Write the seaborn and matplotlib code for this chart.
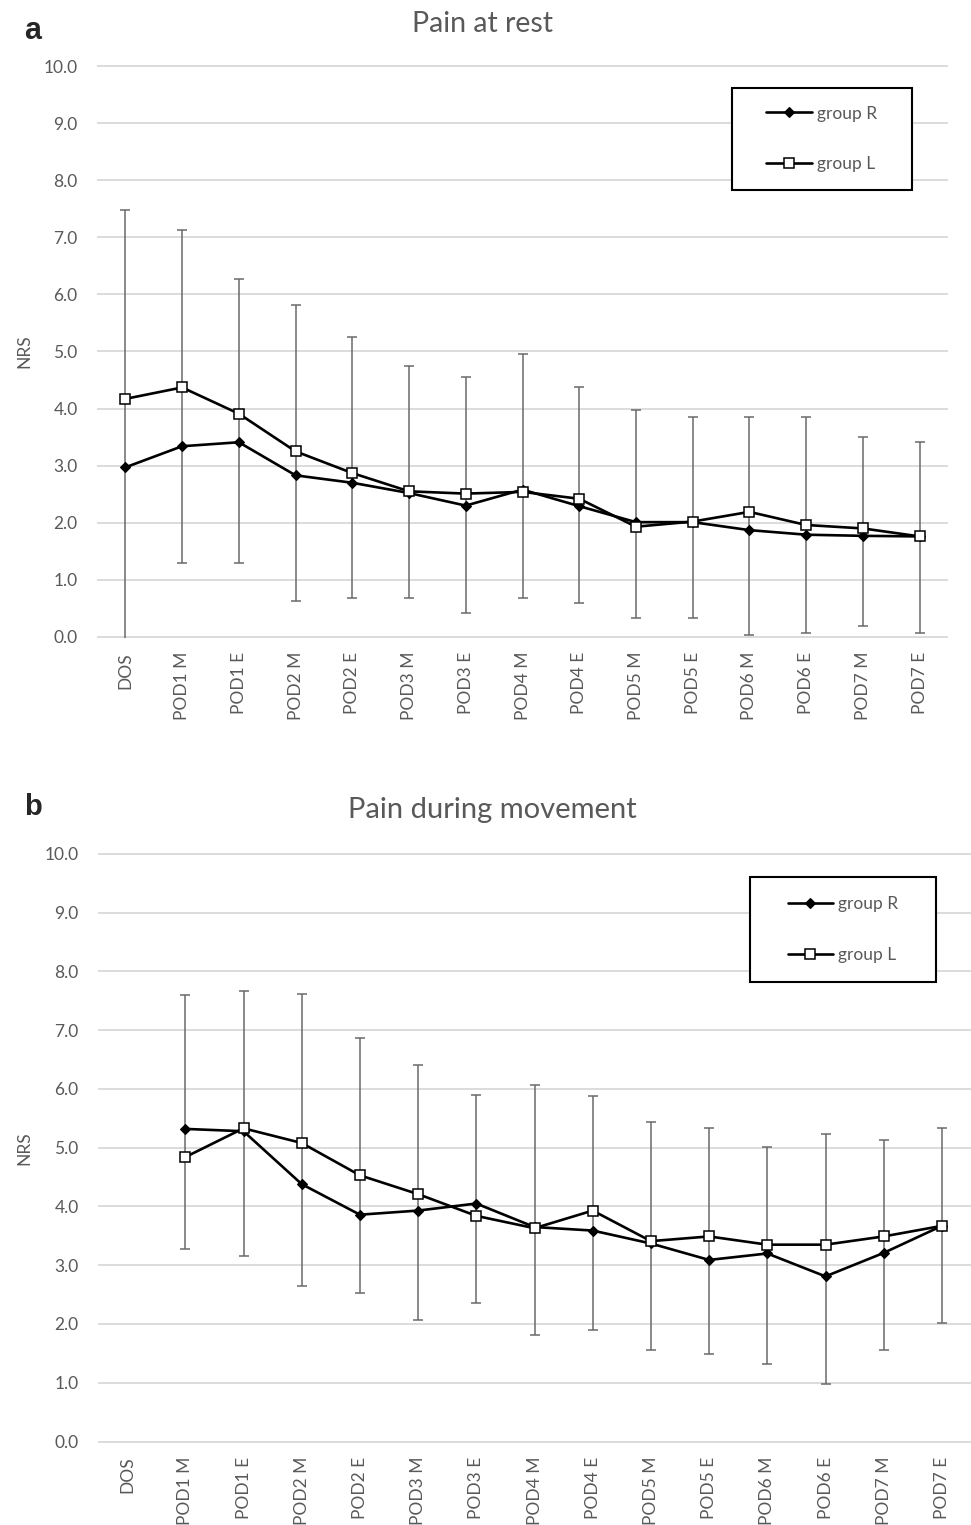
import numpy as np
import pandas as pd
import matplotlib
matplotlib.use('Agg')
import matplotlib.pyplot as plt
import seaborn as sns
from matplotlib.patches import Rectangle

# Zeitpunkte
times = ['DOS', 'POD1 M', 'POD1 E', 'POD2 M', 'POD2 E', 'POD3 M', 'POD3 E',
         'POD4 M', 'POD4 E', 'POD5 M', 'POD5 E', 'POD6 M', 'POD6 E', 'POD7 M', 'POD7 E']

# a: pain at rest (mean NRS, error bar ends)
rest_r = [2.97, 3.34, 3.41, 2.83, 2.70, 2.52, 2.30, 2.58, 2.29, 2.01, 2.01, 1.87, 1.79, 1.77, 1.76]
rest_l = [4.17, 4.37, 3.91, 3.25, 2.87, 2.55, 2.51, 2.54, 2.42, 1.93, 2.02, 2.19, 1.96, 1.90, 1.76]
rest_low = [-0.3, 1.30, 1.30, 0.62, 0.68, 0.68, 0.41, 0.68, 0.59, 0.33, 0.33, 0.04, 0.07, 0.19, 0.07]
rest_high = [7.48, 7.13, 6.27, 5.81, 5.26, 4.75, 4.55, 4.95, 4.37, 3.97, 3.85, 3.85, 3.85, 3.50, 3.42]

# b: pain during movement (no value at DOS)
nan = float('nan')
move_r = [nan, 5.32, 5.28, 4.38, 3.86, 3.93, 4.05, 3.65, 3.59, 3.37, 3.09, 3.20, 2.81, 3.21, 3.67]
move_l = [nan, 4.84, 5.33, 5.08, 4.53, 4.21, 3.84, 3.63, 3.93, 3.41, 3.49, 3.35, 3.35, 3.49, 3.67]
move_low = [nan, 3.27, 3.15, 2.64, 2.52, 2.06, 2.35, 1.81, 1.89, 1.55, 1.49, 1.32, 0.98, 1.55, 2.01]
move_high = [nan, 7.59, 7.67, 7.62, 6.87, 6.41, 5.90, 6.07, 5.88, 5.44, 5.33, 5.02, 5.24, 5.13, 5.33]

sns.set_style('white')
plt.rcParams['font.family'] = ['Lato', 'DejaVu Sans']
GRAY = '#595959'


def draw_panel(ax, r, l, low, high, frame, leg_center, label_x):
    pos = np.arange(len(times))
    r = np.array(r); l = np.array(l)
    low = np.array(low); high = np.array(high)
    df = pd.DataFrame({'pos': pos, 'R': r, 'L': l})

    ax.errorbar(pos, r, yerr=[r - low, high - r], fmt='none', ecolor='#6a6a6a',
                elinewidth=1.1, capsize=3.3, capthick=1.1, zorder=2)
    sns.lineplot(data=df, x='pos', y='R', ax=ax, color='black', lw=1.9,
                 marker='D', ms=5, markeredgecolor='black', mew=0.8,
                 errorbar=None, label='group R', zorder=3)
    sns.lineplot(data=df, x='pos', y='L', ax=ax, color='black', lw=1.9,
                 marker='s', ms=7.5, mfc='white', markeredgecolor='black', mew=1.1,
                 errorbar=None, label='group L', zorder=4)

    ax.set_xlim(-0.5, len(times) - 0.5)
    ax.set_ylim(-0.02, 10.02)
    ax.set_yticks(np.arange(0, 11, 1))
    ax.set_yticklabels([f'{v:.1f}' for v in range(11)])
    ax.set_xticks(pos)
    ax.set_xticklabels(times, rotation=90)
    ax.tick_params(axis='y', length=0, pad=14, labelsize=12.5, labelcolor=GRAY)
    ax.tick_params(axis='x', length=0, pad=10, labelsize=12.5, labelcolor=GRAY)
    ax.yaxis.grid(True, color='#d9d9d9', lw=1.3)
    ax.xaxis.grid(False)
    for s in ax.spines.values():
        s.set_visible(False)
    ax.set_xlabel('')
    ax.set_ylabel('NRS', fontsize=12.5, color=GRAY)
    ax.yaxis.set_label_coords(label_x, 0.5)

    ax.add_patch(Rectangle(frame[:2], frame[2], frame[3], transform=ax.transAxes,
                           fill=True, facecolor='white', edgecolor='black', lw=1.5,
                           zorder=5, clip_on=False))
    leg = ax.legend(loc='center', bbox_to_anchor=leg_center, frameon=False,
                    fontsize=12.5, handlelength=2.6, handletextpad=0.3,
                    labelspacing=2.0, borderpad=0)
    leg.set_zorder(6)
    for t in leg.get_texts():
        t.set_color(GRAY)


fig = plt.figure(figsize=(9.71, 15.25), dpi=100)
ax_a = fig.add_axes([97 / 971, 1 - 638 / 1525, 851 / 971, 573 / 1525])
ax_b = fig.add_axes([98 / 971, 1 - 1442.7 / 1525, 873 / 971, 590 / 1525])

draw_panel(ax_a, rest_r, rest_l, rest_low, rest_high,
           (0.7458, 0.7818, 0.2115, 0.178), (0.8516, 0.871), -0.076)
draw_panel(ax_b, move_r, move_l, move_low, move_high,
           (0.7469, 0.7814, 0.2127, 0.178), (0.8532, 0.8703), -0.0756)

fig.text(482 / 971, 1 - 24 / 1525, 'Pain at rest', ha='center', va='center',
         fontsize=20.5, color=GRAY)
fig.text(492 / 971, 1 - 810 / 1525, 'Pain during movement', ha='center', va='center',
         fontsize=21, color=GRAY)
fig.text(24 / 971, 1 - 31 / 1525, 'a', ha='left', va='center', fontsize=22,
         fontweight='bold', family='Liberation Sans')
fig.text(24 / 971, 1 - 807 / 1525, 'b', ha='left', va='center', fontsize=21,
         fontweight='bold', family='Liberation Sans')

fig.savefig('out.png', dpi=100)
